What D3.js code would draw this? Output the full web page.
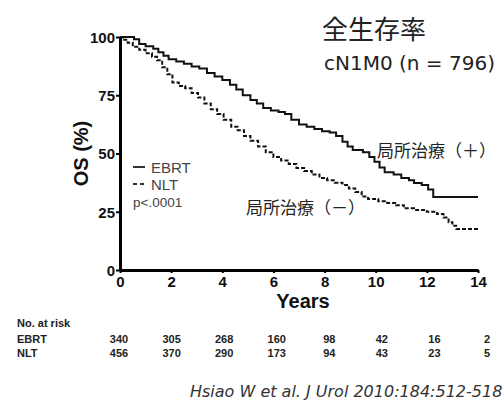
<!DOCTYPE html>
<html>
<head>
<meta charset="utf-8">
<script src="https://cdn.jsdelivr.net/npm/d3@7"></script>
<style>
  html, body { margin: 0; padding: 0; background: #fff; }
  svg { display: block; }
</style>
</head>
<body>
<svg id="chart" width="503" height="401"></svg>
<script>
// Kaplan–Meier overall survival, cN1M0 (n = 796)
const years = [0, 2, 4, 6, 8, 10, 12, 14];
const yTicks = [0, 25, 50, 75, 100];

// EBRT (local therapy +): [year, survival %]
const ebrtTime = [0, 0.55, 0.75, 1.0, 1.3, 1.5, 1.7, 1.9, 2.2, 2.5, 2.8, 3.1, 3.4, 3.7, 4.0, 4.3, 4.55, 4.8, 5.1, 5.35, 5.6, 5.9, 6.2, 6.45, 6.7, 7.0, 7.3, 7.6, 7.9, 8.2, 8.45, 8.7, 8.9, 9.1, 9.5, 9.75, 9.95, 10.15, 10.35, 10.7, 11.0, 11.3, 11.5, 11.8, 12.05, 12.25, 14.0];
const ebrtSurv = [100, 99, 97, 96, 95, 93.5, 92, 90.5, 89.5, 88.5, 87.3, 86.5, 84.5, 83, 81.5, 79.5, 77.5, 75, 73, 71.5, 69.5, 68.5, 67.8, 67, 64.5, 62.5, 61.5, 60.5, 59.5, 59, 57.5, 55, 53, 51.5, 50.5, 48.5, 46.5, 44, 42, 41, 39.5, 38.5, 37.3, 36.5, 34.5, 31.3, 31.3];

// NLT (local therapy −): [year, survival %]
const nltTime = [0, 0.1, 0.3, 0.5, 0.75, 1.0, 1.25, 1.45, 1.65, 1.85, 2.05, 2.3, 2.55, 2.8, 3.05, 3.3, 3.55, 3.8, 4.05, 4.35, 4.6, 4.85, 5.1, 5.4, 5.7, 6.0, 6.3, 6.6, 6.9, 7.2, 7.5, 7.8, 8.1, 8.4, 8.7, 8.95, 9.2, 9.45, 9.7, 10.1, 10.45, 10.8, 11.1, 11.5, 12.0, 12.4, 12.65, 12.85, 13.0, 13.15, 14.0];
const nltSurv = [100, 98.8, 97.5, 95.8, 94.5, 93, 91.5, 90, 87, 84, 80.5, 79, 78, 76, 74, 71.5, 69, 67, 64.5, 61.5, 60, 57.5, 55.5, 53, 50.5, 48.5, 47, 45.5, 43.8, 42.5, 41, 39.5, 38.5, 37.5, 36.5, 35, 33.5, 31.5, 30.5, 29.5, 28.8, 27.8, 26.5, 25.8, 25, 24, 22.5, 20.5, 19, 17.6, 17.6];

// Numbers at risk
const riskGroups = ["EBRT", "NLT"];
const riskEBRT = [340, 305, 268, 160, 98, 42, 16, 2];
const riskNLT = [456, 370, 290, 173, 94, 43, 23, 5];

const svg = d3.select("#chart");
const jpFont = "'Noto Sans CJK JP', 'Noto Sans', sans-serif";
const axFont = "'Liberation Sans', Arial, sans-serif";
const wideFont = "'DejaVu Sans', Verdana, sans-serif";

const x = d3.scaleLinear().domain([0, 14]).range([120, 478]);
const y = d3.scaleLinear().domain([0, 100]).range([270, 37]);

// Axes
const yAxis = svg.append("g")
  .attr("transform", `translate(${x(0)},0)`)
  .call(d3.axisLeft(y).tickValues(yTicks).tickSize(4).tickSizeOuter(0).tickPadding(1));
const xAxis = svg.append("g")
  .attr("transform", `translate(0,${y(0)})`)
  .call(d3.axisBottom(x).tickValues(years).tickSize(3).tickSizeOuter(0).tickPadding(3));

[yAxis, xAxis].forEach(g => {
  g.select(".domain").attr("stroke", "#000").attr("stroke-width", 3);
  g.selectAll(".tick line").attr("stroke", "#000").attr("stroke-width", 2);
  g.selectAll(".tick text")
    .attr("fill", "#111")
    .style("font-family", axFont)
    .style("font-weight", "bold")
    .style("font-size", "15px");
});
yAxis.selectAll(".tick text").attr("dy", "0.35em");

// Axis titles
svg.append("text")
  .attr("transform", `translate(88,${y(50)}) rotate(-90)`)
  .attr("text-anchor", "middle")
  .style("font-family", axFont).style("font-weight", "bold").style("font-size", "20px")
  .attr("fill", "#111")
  .text("OS (%)");
svg.append("text")
  .attr("x", 303).attr("y", 308)
  .attr("text-anchor", "middle")
  .style("font-family", axFont).style("font-weight", "bold").style("font-size", "20px")
  .attr("fill", "#111")
  .text("Years");

// Survival curves
const line = d3.line()
  .x(d => x(d[0]))
  .y(d => y(d[1]))
  .curve(d3.curveStepAfter);

svg.append("path")
  .datum(ebrtTime.map((t, i) => [t, ebrtSurv[i]]))
  .attr("fill", "none").attr("stroke", "#111").attr("stroke-width", 2)
  .attr("d", line);
svg.append("path")
  .datum(nltTime.map((t, i) => [t, nltSurv[i]]))
  .attr("fill", "none").attr("stroke", "#111").attr("stroke-width", 2)
  .attr("stroke-dasharray", "4,2")
  .attr("d", line);

// Legend
const legend = svg.append("g").style("font-family", axFont).style("font-size", "15px").attr("fill", "#444");
legend.append("line").attr("x1", 133).attr("x2", 145).attr("y1", 167).attr("y2", 167)
  .attr("stroke", "#333").attr("stroke-width", 2);
legend.append("text").attr("x", 151).attr("y", 173).text("EBRT");
legend.append("line").attr("x1", 133).attr("x2", 145).attr("y1", 184).attr("y2", 184)
  .attr("stroke", "#333").attr("stroke-width", 2).attr("stroke-dasharray", "4,3");
legend.append("text").attr("x", 151).attr("y", 190).text("NLT");
legend.append("text").attr("x", 133).attr("y", 207).style("font-size", "13.5px").text("p<.0001");

// Titles and curve labels
svg.append("text").attr("x", 322).attr("y", 39)
  .style("font-family", jpFont).style("font-size", "26px").attr("fill", "#222")
  .text("全生存率");
svg.append("text").attr("x", 324).attr("y", 70)
  .style("font-family", wideFont).style("font-size", "20px").attr("fill", "#222")
  .text("cN1M0 (n = 796)");
svg.append("text").attr("x", 377).attr("y", 157)
  .style("font-family", jpFont).style("font-size", "17px").attr("fill", "#222")
  .text("局所治療（＋）");
svg.append("text").attr("x", 246).attr("y", 214)
  .style("font-family", jpFont).style("font-size", "17px").attr("fill", "#222")
  .text("局所治療（－）");

// Number-at-risk table
const xr = d3.scaleLinear().domain([0, 14]).range([119, 487]);
const table = svg.append("g").style("font-family", axFont).style("font-weight", "bold")
  .style("font-size", "11px").attr("fill", "#222");
table.append("text").attr("x", 17).attr("y", 327).text("No. at risk");
[riskEBRT, riskNLT].forEach((row, r) => {
  const yy = 343 + r * 14;
  table.append("text").attr("x", 17).attr("y", yy).text(riskGroups[r]);
  table.selectAll(null).data(row).enter().append("text")
    .attr("x", (d, i) => xr(years[i]))
    .attr("y", yy)
    .attr("text-anchor", "middle")
    .text(d => d);
});

// Citation
svg.append("text").attr("x", 190).attr("y", 397)
  .style("font-family", wideFont).style("font-style", "italic").style("font-size", "16px")
  .attr("fill", "#333")
  .text("Hsiao W et al. J Urol 2010:184:512-518");
</script>
</body>
</html>
